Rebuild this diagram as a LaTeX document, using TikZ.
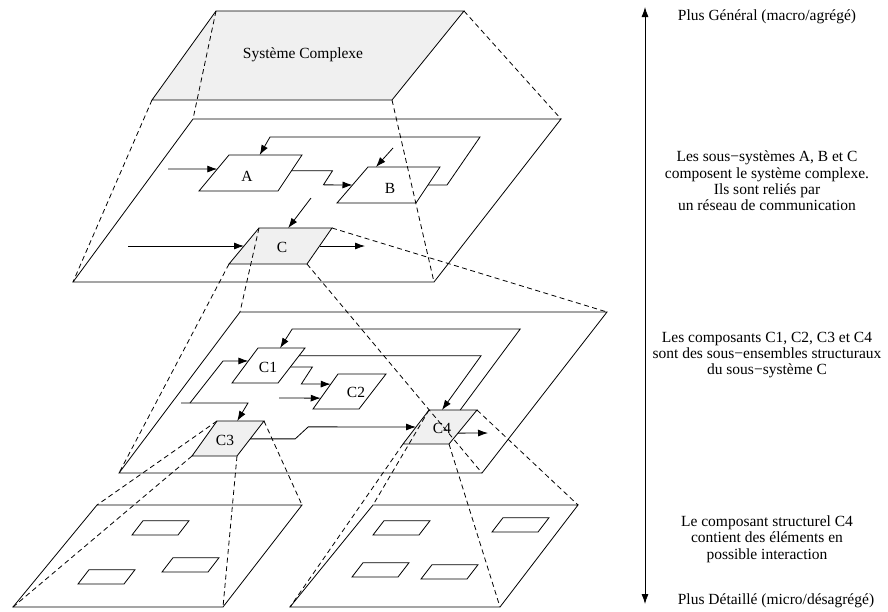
\documentclass[tikz,border=0pt]{standalone}
\usepackage{fontspec}
\setmainfont{Liberation Serif}
\usetikzlibrary{calc,arrows.meta}

\begin{document}
\begin{tikzpicture}[x=1pt, y=-1pt, line width=0.8pt,
  >={Latex[length=10pt,width=7pt]},
  slab/.style={draw},
  greybox/.style={draw, fill=black!6},
  zoomline/.style={dash pattern=on 5pt off 3.5pt},
  txt/.style={font=\fontsize{15.5}{16.3}\selectfont, inner sep=0pt, align=center}]

\useasboundingbox (0,0) rectangle (888,611);

% the whole system
\draw[greybox] (216,11) coordinate (sys-tl) -- (464,11) coordinate (sys-tr) -- (392,100) coordinate (sys-br) -- (152,100) coordinate (sys-bl) -- cycle;
\node[txt] (sys) at (303,55) {Système Complexe};

% sub-systems A, B and C
\draw[slab] (193,119) coordinate (L2-tl) -- (561,119) coordinate (L2-tr) -- (434,282) coordinate (L2-br) -- (73,282) coordinate (L2-bl) -- cycle;
\draw[slab] (229,155) coordinate (A-tl) -- (302,155) coordinate (A-tr) -- (278,191) coordinate (A-br) -- (199,191) coordinate (A-bl) -- cycle;
\draw[slab] (368,167) coordinate (B-tl) -- (440,167) coordinate (B-tr) -- (416,203) coordinate (B-br) -- (337,203) coordinate (B-bl) -- cycle;
\draw[greybox] (259,228) coordinate (C-tl) -- (332,228) coordinate (C-tr) -- (307,264) coordinate (C-br) -- (229,264) coordinate (C-bl) -- cycle;
\node[txt] (A) at (247,176) {A};
\node[txt] (B) at (390,188) {B};
\node[txt] (C) at (282,247) {C};

\coordinate (inA) at (168,169);
\coordinate (inB) at (393,148);
\coordinate (inC) at (311,198);
\coordinate (srcC) at (128,246);
\coordinate (outC) at (365,246);

\draw[->] (inA) -- ($(A-tl)!.39!(A-bl)$);
\draw[->] ($(A-tr)!.44!(A-br)$) -- ++(41,0) -- ++(-9,14) -- ($(B-tl)!.5!(B-bl)$);
\draw[->] ($(B-tr)!.5!(B-br)$) -- ++(19,0) -- ++(33,-48) -- ++(-210,0) -- ($(A-tl)!.42!(A-tr)$);
\draw[->] (inB) -- ($(B-tl)!.11!(B-tr)$);
\draw[->] (inC) -- ($(C-tl)!.4!(C-tr)$);
\draw[->] (srcC) -- ($(C-tl)!.5!(C-bl)$);
\draw[->] ($(C-tr)!.5!(C-br)$) -- (outC);

% components C1 to C4
\draw[slab] (240,312) coordinate (L3-tl) -- (607,312) coordinate (L3-tr) -- (482,473) coordinate (L3-br) -- (119,473) coordinate (L3-bl) -- cycle;
\draw[slab] (258,348) coordinate (C1-tl) -- (305,348) coordinate (C1-tr) -- (278,383) coordinate (C1-br) -- (232,383) coordinate (C1-bl) -- cycle;
\draw[slab] (338,374) coordinate (C2-tl) -- (386,374) coordinate (C2-tr) -- (359,409) coordinate (C2-br) -- (313,409) coordinate (C2-bl) -- cycle;
\draw[greybox] (217,421) coordinate (C3-tl) -- (264,421) coordinate (C3-tr) -- (237,456) coordinate (C3-br) -- (192,456) coordinate (C3-bl) -- cycle;
\draw[greybox] (429,410) coordinate (C4-tl) -- (477,410) coordinate (C4-tr) -- (449,444) coordinate (C4-br) -- (403,444) coordinate (C4-bl) -- cycle;
\node[txt] (C1) at (268,367) {C1};
\node[txt] (C2) at (356,392) {C2};
\node[txt] (C3) at (225,440) {C3};
\node[txt] (C4) at (442,428) {C4};

\coordinate (in3) at (181,403);
\coordinate (fork) at (190,403);
\coordinate (inC2) at (279,398);
\coordinate (outC4) at (488,433);

\draw[->] ($(C4-tl)!.65!(C4-tr)$) -- ++(60,-81) -- ++(-228,0) -- ($(C1-tl)!.47!(C1-tr)$);
\draw[->] ($(C1-tr)!.22!(C1-br)$) -- ++(182,0) -- ($(C4-tl)!.27!(C4-tr)$);
\draw[->] ($(C1-tr)!.54!(C1-br)$) -- ++(22,0) -- ++(-11,17) -- ($(C2-tl)!.29!(C2-bl)$);
\draw[->] (inC2) -- ($(C2-tl)!.69!(C2-bl)$);
\draw[->] (in3) -- ++(67,0) -- ($(C3-tl)!.43!(C3-tr)$);
\draw[->] (fork) -- ++(33,-42) -- ($(C1-tl)!.37!(C1-bl)$);
\draw[->] ($(C3-tr)!.51!(C3-br)$) -- ++(45,0) -- ++(13,-12) -- ($(C4-tl)!.5!(C4-bl)$);
\draw[->] ($(C4-tr)!.68!(C4-br)$) -- (outC4);

% elements inside C3 and C4
\draw[slab] (97,505) coordinate (P1-tl) -- (302,505) coordinate (P1-tr) -- (223,607) coordinate (P1-br) -- (13,607) coordinate (P1-bl) -- cycle;
\draw[slab] (373,505) coordinate (P2-tl) -- (578,505) coordinate (P2-tr) -- (500,607) coordinate (P2-br) -- (290,607) coordinate (P2-bl) -- cycle;
\draw[slab] (132,535) -- ++(46,0) -- ++(11,-14.3) -- ++(-46,0) -- cycle;
\draw[slab] (162,572) -- ++(46,0) -- ++(11,-14.3) -- ++(-46,0) -- cycle;
\draw[slab] (78,584) -- ++(46,0) -- ++(11,-14.3) -- ++(-46,0) -- cycle;
\draw[slab] (373,535) -- ++(46,0) -- ++(11,-14.3) -- ++(-46,0) -- cycle;
\draw[slab] (492,532) -- ++(46,0) -- ++(11,-14.3) -- ++(-46,0) -- cycle;
\draw[slab] (352,577) -- ++(46,0) -- ++(11,-14.3) -- ++(-46,0) -- cycle;
\draw[slab] (421,579) -- ++(46,0) -- ++(11,-14.3) -- ++(-46,0) -- cycle;

% zoom lines between levels
\draw[zoomline] (sys-tl) -- (L2-tl) (sys-tr) -- (L2-tr) (sys-br) -- (L2-br) (sys-bl) -- (L2-bl);
\draw[zoomline] (C-tl) -- (L3-tl) (C-tr) -- (L3-tr) (C-br) -- (L3-br) (C-bl) -- (L3-bl);
\draw[zoomline] (C3-tl) -- (P1-tl) (C3-tr) -- (P1-tr) (C3-br) -- (P1-br) (C3-bl) -- (P1-bl);
\draw[zoomline] (C4-tl) -- (P2-tl) (C4-tr) -- (P2-tr) (C4-br) -- (P2-br) (C4-bl) -- (P2-bl);

% scale of detail
\coordinate (macro) at (645,7);
\coordinate (micro) at (645,604);
\draw[<->] (macro) -- (micro);
\node[txt] (general) at (767,17) {Plus Général (macro/agrégé)};
\node[txt] (lvl2) at (767,181) {Les sous−systèmes A, B et C\\composent le système complexe.\\Ils sont reliés par\\un réseau de communication};
\node[txt] (lvl3) at (767,355) {Les composants C1, C2, C3 et C4\\sont des sous−ensembles structuraux\\du sous−système C};
\node[txt] (lvl4) at (767,539) {Le composant structurel C4\\contient des éléments en\\possible interaction};
\node[txt] (detail) at (776,601) {Plus Détaillé (micro/désagrégé)};
\end{tikzpicture}
\end{document}
